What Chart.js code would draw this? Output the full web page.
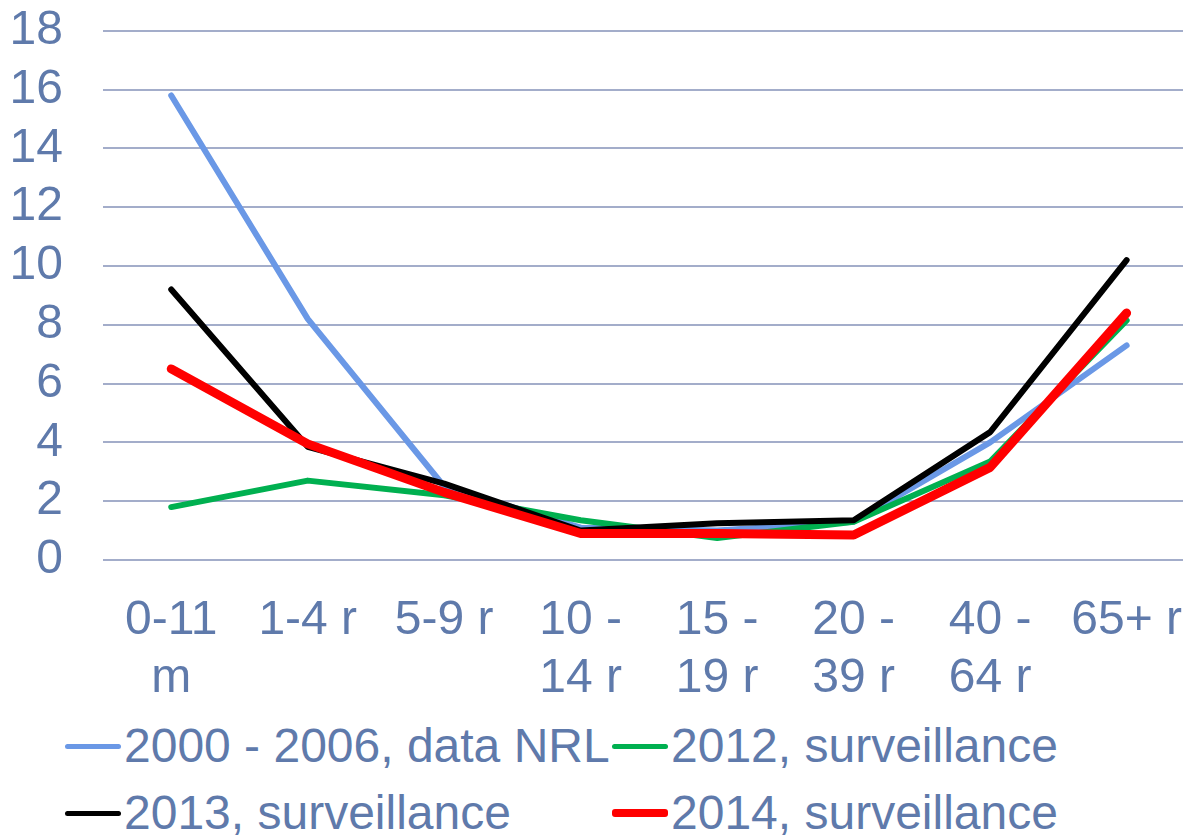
<!DOCTYPE html>
<html>
<head>
<meta charset="utf-8">
<script src="https://cdn.jsdelivr.net/npm/chart.js@4/dist/chart.umd.min.js"></script>
<style>
  html, body { margin: 0; padding: 0; background: #fff; overflow: hidden; }
  #wrap { position: relative; width: 1183px; height: 710px; overflow: hidden; }
  #ageChart { position: absolute; left: 0; top: -38px; }
  #legend {
    position: absolute; left: 0; top: 716px; width: 1183px;
    font-family: "Liberation Sans", Arial, sans-serif; font-size: 48px; color: #5f7aab;
  }
  .item { position: absolute; height: 60px; line-height: 60px; white-space: nowrap; }
  .swatch { display: inline-block; width: 56px; vertical-align: middle; border-radius: 3px; margin-right: 3px; position: relative; top: -3px; }
</style>
</head>
<body>
<div id="wrap"><canvas id="ageChart" width="1206" height="748"></canvas></div>
<div id="legend"></div>
<script>
const categories = [["0-11", "m"], "1-4 r", "5-9 r", ["10 -", "14 r"], ["15 -", "19 r"], ["20 -", "39 r"], ["40 -", "64 r"], "65+ r"];
const seriesNames = ["2000 - 2006, data NRL", "2012, surveillance", "2013, surveillance", "2014, surveillance"];
const nrl2000 = [15.8, 8.2, 2.5, 1.1, 1.0, 1.3, 4.0, 7.3];
const surv2012 = [1.8, 2.7, 2.2, 1.35, 0.75, 1.3, 3.35, 8.15];
const surv2013 = [9.2, 3.85, 2.6, 1.0, 1.25, 1.35, 4.35, 10.2];
const surv2014 = [6.5, 3.95, 2.3, 0.9, 0.9, 0.85, 3.15, 8.4];
const yMax = 18;
const yStep = 2;

const textColor = "#5f7aab";
const fontFamily = "'Liberation Sans', Arial, sans-serif";
const colors = ["#6a98e6", "#00b050", "#000000", "#ff0000"];
const widths = [6, 6, 6, 9];
const allValues = [nrl2000, surv2012, surv2013, surv2014];

function makeDataset(i) {
  return {
    label: seriesNames[i],
    data: allValues[i],
    borderColor: colors[i],
    backgroundColor: colors[i],
    borderWidth: widths[i],
    borderCapStyle: "round",
    borderJoinStyle: "round",
    pointRadius: 0,
    tension: 0,
    fill: false,
    order: 4 - i,
  };
}

function initChart() {
  const ctx = document.getElementById("ageChart").getContext("2d");
  return new Chart(ctx, {
    type: "line",
    data: {
      labels: categories,
      datasets: [0, 1, 2, 3].map(makeDataset),
    },
    options: {
      responsive: false,
      animation: false,
      layout: { padding: 0 },
      plugins: { legend: { display: false }, tooltip: { enabled: false } },
      scales: {
        x: {
          offset: true,
          grid: { display: false },
          border: { display: false },
          ticks: {
            color: textColor,
            font: { family: fontFamily, size: 48 },
            padding: 24,
            maxRotation: 0,
            autoSkip: false,
          },
          afterFit: (scale) => { scale.height = 150; },
        },
        y: {
          min: 0,
          max: yMax,
          grid: { color: "#a3adca", lineWidth: 2, drawTicks: false },
          border: { display: false },
          ticks: {
            stepSize: yStep,
            autoSkip: false,
            color: textColor,
            font: { family: fontFamily, size: 48 },
            padding: 40,
          },
          afterFit: (scale) => { scale.width = 103; },
        },
      },
    },
  });
}

function buildLegend() {
  const legend = document.getElementById("legend");
  const spots = [[65, 0], [612, 0], [65, 67], [612, 67]];
  seriesNames.forEach((name, i) => {
    const item = document.createElement("div");
    item.className = "item";
    item.style.left = spots[i][0] + "px";
    item.style.top = spots[i][1] + "px";
    item.innerHTML = `<span class="swatch" style="background:${colors[i]};height:${widths[i] - 1}px"></span>${name}`;
    legend.appendChild(item);
  });
}

window.onload = function () {
  initChart();
  buildLegend();
};
</script>
</body>
</html>
